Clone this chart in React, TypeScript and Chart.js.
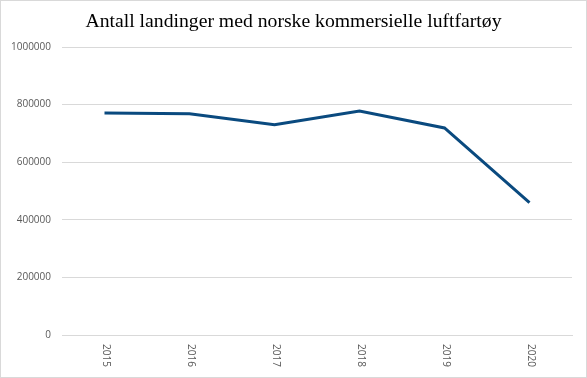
import React, { useEffect, useRef } from "react";
import { Chart, registerables } from "chart.js";

Chart.register(...registerables);

const TITLE = "Antall landinger med norske kommersielle luftfartøy";
const years = ["2015", "2016", "2017", "2018", "2019", "2020"];
const landings = [771000, 768000, 730000, 778000, 719000, 460000];
const yTicks = [0, 200000, 400000, 600000, 800000, 1000000];

const LINE_COLOR = "#0a4a7f";
const GRID = "#d9d9d9";
const TEXT = "#595959";
const TICK_FONT = "'Open Sans', 'Noto Sans', sans-serif";

const titleDraw = {
  id: "titleDraw",
  afterDraw(chart: any) {
    const ctx = chart.ctx;
    ctx.save();
    ctx.fillStyle = "#000";
    ctx.font = `19.7px 'Liberation Serif', serif`;
    ctx.textAlign = "center";
    ctx.textBaseline = "alphabetic";
    ctx.fillText(TITLE, 293.5, 27);
    ctx.restore();
  },
};

const rotatedXLabels = {
  id: "rotatedXLabels",
  afterDraw(chart: any) {
    const ctx = chart.ctx;
    const xs = chart.scales.x;
    ctx.save();
    ctx.fillStyle = TEXT;
    ctx.font = `10px ${TICK_FONT}`;
    ctx.textAlign = "left";
    ctx.textBaseline = "middle";
    years.forEach((lab, i) => {
      const x = xs.getPixelForTick(i) + 1;
      const y = chart.chartArea.bottom + 9;
      ctx.save();
      ctx.translate(x, y);
      ctx.rotate(Math.PI / 2);
      ctx.fillText(lab, 0, 0);
      ctx.restore();
    });
    ctx.restore();
  },
};

const frame = {
  id: "frame",
  afterDraw(chart: any) {
    const ctx = chart.ctx;
    ctx.save();
    ctx.strokeStyle = GRID;
    ctx.lineWidth = 1;
    ctx.strokeRect(0.5, 0.5, chart.width - 1, chart.height - 1);
    ctx.restore();
  },
};

export default function App() {
  const ref = useRef<HTMLCanvasElement | null>(null);
  useEffect(() => {
    document.body.style.margin = "0";
    const chart = new Chart(ref.current as HTMLCanvasElement, {
      type: "line",
      data: {
        labels: years,
        datasets: [
          {
            data: landings,
            borderColor: LINE_COLOR,
            borderWidth: 3,
            pointRadius: 0,
            tension: 0,
            fill: false,
          },
        ],
      },
      options: {
        animation: false,
        responsive: false,
        maintainAspectRatio: false,
        layout: { padding: { left: 0, right: 15, top: 47, bottom: 0 } },
        plugins: {
          legend: { display: false },
          tooltip: { enabled: false },
          title: { display: false },
        },
        scales: {
          x: {
            type: "category",
            offset: true,
            grid: { display: false, drawTicks: false },
            border: { display: true, color: GRID },
            ticks: { display: false },
            afterFit(scale: any) {
              scale.height = 43;
            },
          },
          y: {
            min: 0,
            max: 1000000,
            afterBuildTicks(scale: any) {
              scale.ticks = yTicks.map((v) => ({ value: v }));
            },
            grid: { color: GRID, drawTicks: false },
            border: { display: false },
            ticks: {
              color: TEXT,
              font: { family: TICK_FONT, size: 10 },
              padding: 11,
              callback: (v: any) => String(v),
            },
            afterFit(scale: any) {
              scale.width = 62;
            },
          },
        },
      },
      plugins: [titleDraw, rotatedXLabels, frame],
    });
    return () => chart.destroy();
  }, []);
  return (
    <div style={{ width: 587, height: 378 }}>
      <canvas ref={ref} width={587} height={378} style={{ display: "block" }} />
    </div>
  );
}
